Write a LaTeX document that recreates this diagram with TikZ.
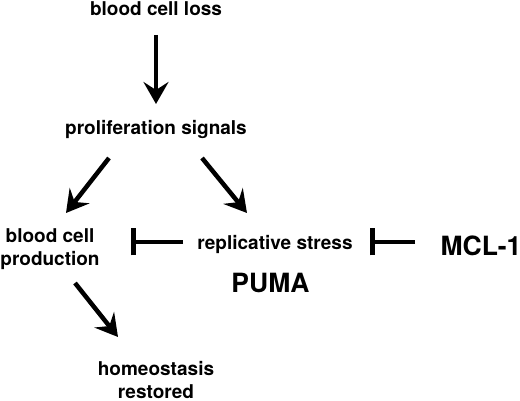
\documentclass[tikz,border=0pt]{standalone}
\usepackage{fontspec}
\setmainfont{TeX Gyre Heros}
\usetikzlibrary{arrows.meta}
\tikzstyle{txt}=[%
  inner sep=0pt,
  font=\bfseries\fontsize{19}{23}\selectfont,
  align=center
]
\tikzstyle{bigtxt}=[%
  inner sep=0pt,
  font=\bfseries\fontsize{26.5}{30}\selectfont
]
\tikzstyle{act}=[line width=4.5pt, -{Stealth[length=22pt,width=25pt,inset=8pt]}]
\tikzstyle{inh}=[line width=4.5pt, -{Bar[width=27pt]}]

\begin{document}
\begin{tikzpicture}[x=1pt, y=-1pt]
      \useasboundingbox (0,0) rectangle (520,401);
      \node[txt, anchor=base] (loss) at (156,16) {blood cell loss};
      \node[txt, anchor=base] (prolif) at (156,135) {proliferation signals};
      \node[txt, anchor=north] (prod) at (50,228) {blood cell\\production};
      \node[txt, anchor=base] (stress) at (275,250) {replicative stress};
      \node[bigtxt, anchor=base] (mcl) at (481,255) {MCL-1};
      \node[bigtxt, anchor=base] (puma) at (270.5,292) {PUMA};
      \node[txt, anchor=north] (home) at (156,361) {homeostasis\\restored};
      % activating arrows
      \draw[act] ([yshift=-19pt]loss.base) -- ([yshift=31pt]prolif.base);
      \draw[act] ([xshift=-47pt, yshift=-23pt]prolif.base) -- ([xshift=16pt, yshift=15pt]prod.north);
      \draw[act] ([xshift=46pt, yshift=-23pt]prolif.base) -- ([xshift=-28pt, yshift=37pt]stress.base);
      \draw[act] ([xshift=25pt, yshift=-55pt]prod.north) -- ([xshift=-38pt, yshift=24pt]home.north);
      % inhibiting arrows
      \draw[inh] ([xshift=-92pt, yshift=8pt]stress.base) -- ([xshift=81pt, yshift=-14pt]prod.north);
      \draw[inh] ([xshift=-66pt, yshift=13pt]mcl.base) -- ([xshift=95pt, yshift=8pt]stress.base);
    \end{tikzpicture}
\end{document}
